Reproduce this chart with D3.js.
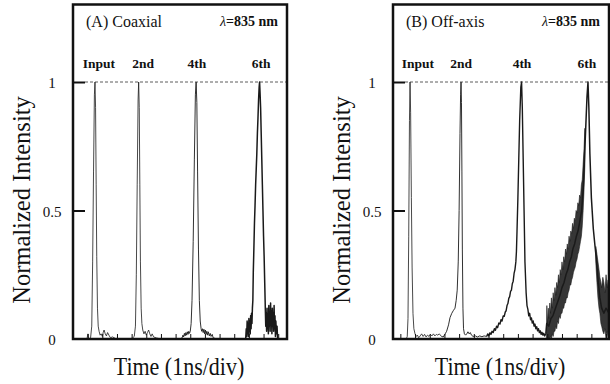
<!DOCTYPE html>
<html>
<head>
<meta charset="utf-8">
<script src="https://cdn.jsdelivr.net/npm/d3@7"></script>
<style>
  body { margin: 0; background: #fff; }
  svg { display: block; }
  text { font-family: "Liberation Serif", "Times New Roman", serif; fill: #111; }
</style>
</head>
<body>
<div id="chart"></div>
<script>
// time axis is in divisions, intensity normalised to the input peak
const intensityTicks = [0, 0.5, 1];
const intensityLabels = ["0", "0.5", "1"];
const pulseNames = ["Input", "2nd", "4th", "6th"];
const labelTimesA = [1.77, 4.78, 8.46, 12.83];
const labelTimesB = [1.70, 4.63, 8.78, 13.2];
const timeTicksA = [1, 2, 3, 4, 5, 6, 7, 8, 9, 10, 11, 12, 13, 14];
const timeTicksB = [0.5, 1.5, 2.5, 3.5, 4.5, 5.5, 6.5, 7.5, 8.5, 9.5, 10.5, 11.5, 12.5, 13.5, 14.5];

// (A) coaxial trace, one array per pulse
const traceA_input = [[0, 0], [0.95, 0], [1.02, 0.02], [1.06, 0], [1.2, 0.005], [1.28, 0.05], [1.34, 0.3], [1.4, 0.65], [1.46, 0.95], [1.5, 1],
  [1.54, 0.9], [1.58, 0.6], [1.62, 0.32], [1.67, 0.12], [1.72, 0.05], [1.78, 0.03], [1.85, 0.015], [1.92, 0.02], [2.0, 0.01],
  [2.06, 0.025], [2.12, 0.035], [2.2, 0.02], [2.28, 0.012], [2.36, 0.025], [2.45, 0.015], [2.55, 0.005], [2.7, 0.008], [2.9, 0.002], [3.7, 0]];
const traceA_2nd = [[3.7, 0], [4.05, 0.003], [4.18, 0.01], [4.26, 0.05], [4.32, 0.25], [4.38, 0.6], [4.44, 0.93], [4.48, 1], [4.52, 0.9],
  [4.56, 0.6], [4.6, 0.3], [4.65, 0.12], [4.7, 0.06], [4.76, 0.035], [4.84, 0.02], [4.92, 0.03], [5.0, 0.015], [5.08, 0.025],
  [5.16, 0.035], [5.24, 0.02], [5.32, 0.01], [5.4, 0.02], [5.5, 0.008], [5.7, 0.004], [6.0, 0]];
const traceA_4th = [[6.0, 0], [7.3, 0], [7.45, 0.005], [7.5, 0.015], [7.55, 0.008], [7.6, 0.022], [7.65, 0.012], [7.7, 0.025], [7.75, 0.015],
  [7.8, 0.028], [7.85, 0.018], [7.9, 0.03], [7.95, 0.022], [8.0, 0.03], [8.06, 0.06], [8.12, 0.15], [8.2, 0.38], [8.28, 0.7],
  [8.35, 0.95], [8.4, 1], [8.45, 0.92], [8.5, 0.65], [8.56, 0.35], [8.62, 0.15], [8.68, 0.07], [8.74, 0.04], [8.78, 0.03],
  [8.83, 0.04], [8.88, 0.025], [8.93, 0.038], [8.98, 0.02], [9.03, 0.035], [9.08, 0.018], [9.13, 0.03], [9.18, 0.015],
  [9.23, 0.028], [9.3, 0.012], [9.36, 0.022], [9.42, 0.01], [9.5, 0.018], [9.56, 0.005], [9.7, 0.002], [11.5, 0]];
const traceA_6th = [[11.5, 0], [11.78, 0], [11.82, 0.04], [11.85, 0.01], [11.88, 0.07], [11.91, 0.02], [11.94, 0.06], [11.97, 0.01],
  [12.0, 0.08], [12.03, 0.03], [12.06, 0.07], [12.09, 0.02], [12.12, 0.09], [12.15, 0.04], [12.18, 0.1], [12.21, 0.06],
  [12.24, 0.12], [12.27, 0.15], [12.3, 0.26], [12.34, 0.35], [12.38, 0.45], [12.42, 0.52], [12.46, 0.6], [12.5, 0.66],
  [12.54, 0.72], [12.58, 0.8], [12.62, 0.86], [12.66, 0.93], [12.7, 0.98], [12.73, 1], [12.76, 0.96], [12.8, 0.9],
  [12.84, 0.8], [12.88, 0.7], [12.92, 0.6], [12.96, 0.5], [13.0, 0.4], [13.04, 0.32], [13.08, 0.22], [13.12, 0.12],
  [13.15, 0.05], [13.18, 0.1], [13.21, 0.03], [13.24, 0.12], [13.27, 0.04], [13.3, 0.09], [13.33, 0.02], [13.36, 0.13],
  [13.39, 0.05], [13.42, 0.1], [13.45, 0.03], [13.48, 0.14], [13.51, 0.06], [13.54, 0.11], [13.57, 0.02], [13.6, 0.12],
  [13.63, 0.05], [13.66, 0.1], [13.69, 0.03], [13.72, 0.13], [13.75, 0.04], [13.78, 0.09], [13.81, 0.01], [13.84, 0.07],
  [13.88, 0.02], [13.92, 0.05], [13.96, 0], [14.6, 0]];

// (B) off-axis trace
const traceB_input = [[0, 0], [0.9, 0], [0.97, 0.01], [1.02, 0.08], [1.07, 0.4], [1.12, 0.85], [1.16, 1], [1.2, 0.88], [1.25, 0.55],
  [1.3, 0.28], [1.36, 0.1], [1.42, 0.04], [1.5, 0.02], [1.58, 0.01], [1.66, 0.015], [1.75, 0.005], [1.85, 0.012], [1.95, 0.02],
  [2.05, 0.01], [2.15, 0.018], [2.25, 0.008], [2.35, 0.015], [2.45, 0.01], [2.55, 0.018], [2.65, 0.012], [2.75, 0.02],
  [2.85, 0.012], [2.95, 0.018], [3.05, 0.015], [3.15, 0.02], [3.3, 0.01]];
const traceB_2nd = [[3.3, 0.01], [3.42, 0.008], [3.55, 0.02], [3.65, 0.03], [3.78, 0.055], [3.88, 0.083], [4.0, 0.1], [4.1, 0.11],
  [4.22, 0.12], [4.3, 0.15], [4.37, 0.19], [4.44, 0.3], [4.5, 0.5], [4.56, 0.8], [4.6, 0.95], [4.63, 1], [4.66, 0.92],
  [4.69, 0.65], [4.72, 0.35], [4.76, 0.12], [4.8, 0.04], [4.86, 0.02], [4.94, 0.015], [5.02, 0.02], [5.1, 0.028], [5.18, 0.02],
  [5.26, 0.025], [5.34, 0.015], [5.45, 0.01], [5.6, 0.012], [5.75, 0.008], [5.9, 0.012], [6.05, 0.009], [6.2, 0.012], [6.37, 0.01]];
const traceB_4th = [[6.37, 0.01], [6.45, 0.02], [6.52, 0.012], [6.6, 0.024], [6.67, 0.018], [6.74, 0.03], [6.82, 0.025], [6.9, 0.04],
  [6.97, 0.034], [7.05, 0.05], [7.12, 0.044], [7.2, 0.062], [7.28, 0.058], [7.35, 0.075], [7.42, 0.07], [7.5, 0.09],
  [7.57, 0.088], [7.64, 0.105], [7.7, 0.11], [7.76, 0.13], [7.82, 0.138], [7.88, 0.158], [7.94, 0.165], [8.0, 0.185],
  [8.06, 0.19], [8.12, 0.215], [8.18, 0.225], [8.24, 0.255], [8.3, 0.27], [8.36, 0.3], [8.4, 0.34], [8.44, 0.42], [8.5, 0.55],
  [8.56, 0.7], [8.62, 0.85], [8.7, 0.98], [8.75, 1], [8.8, 0.9], [8.86, 0.7], [8.92, 0.5], [8.98, 0.3], [9.06, 0.18],
  [9.12, 0.13], [9.18, 0.115], [9.24, 0.09], [9.3, 0.1], [9.36, 0.075], [9.42, 0.082], [9.48, 0.062], [9.54, 0.07], [9.6, 0.05],
  [9.66, 0.058], [9.72, 0.04], [9.78, 0.048], [9.84, 0.032], [9.9, 0.04], [9.96, 0.025], [10.02, 0.032], [10.08, 0.018],
  [10.14, 0.026], [10.2, 0.015], [10.26, 0.022], [10.32, 0.012], [10.4, 0.02]];
const traceB_6th = [[10.4, 0.02], [10.46, 0.06], [10.6, 0.05], [10.75, 0.08], [10.88, 0.09], [11.0, 0.11], [11.12, 0.13],
  [11.24, 0.15], [11.36, 0.17], [11.5, 0.2], [11.64, 0.22], [11.77, 0.25], [11.9, 0.27], [12.02, 0.3], [12.14, 0.32],
  [12.24, 0.35], [12.36, 0.37], [12.48, 0.4], [12.59, 0.42], [12.72, 0.46], [12.84, 0.5], [12.94, 0.58], [13.0, 0.66],
  [13.1, 0.8], [13.2, 0.94], [13.27, 1], [13.33, 0.9], [13.4, 0.72], [13.5, 0.55], [13.63, 0.43], [13.75, 0.36],
  [13.86, 0.3], [13.97, 0.22], [14.08, 0.16], [14.2, 0.12], [14.35, 0.1], [14.5, 0.12], [14.7, 0.1]];
// noisy envelope [time, low, high]
const noiseB_6thRise = [[10.44, 0, 0.03], [10.47, 0, 0.13], [10.52, 0, 0.06], [10.57, 0, 0.12], [10.62, 0, 0.08], [10.67, 0, 0.14],
  [10.72, 0.01, 0.1], [10.78, 0, 0.16], [10.84, 0.02, 0.12], [10.9, 0.01, 0.18], [10.96, 0.03, 0.15], [11.02, 0.03, 0.2],
  [11.08, 0.05, 0.17], [11.14, 0.04, 0.22], [11.2, 0.07, 0.2], [11.26, 0.06, 0.25], [11.32, 0.09, 0.22], [11.38, 0.08, 0.27],
  [11.44, 0.1, 0.25], [11.5, 0.1, 0.3], [11.56, 0.12, 0.27], [11.62, 0.12, 0.32], [11.68, 0.14, 0.3], [11.74, 0.14, 0.35],
  [11.8, 0.16, 0.33], [11.86, 0.16, 0.37], [11.92, 0.18, 0.35], [11.98, 0.19, 0.4], [12.04, 0.21, 0.38], [12.1, 0.21, 0.42],
  [12.16, 0.23, 0.41], [12.22, 0.24, 0.45], [12.28, 0.26, 0.43], [12.34, 0.27, 0.47], [12.4, 0.28, 0.46], [12.46, 0.3, 0.5],
  [12.52, 0.31, 0.49], [12.58, 0.33, 0.53], [12.64, 0.34, 0.52], [12.7, 0.36, 0.56], [12.76, 0.38, 0.55], [12.82, 0.4, 0.6],
  [12.88, 0.44, 0.62], [12.94, 0.5, 0.68], [13.0, 0.58, 0.74], [13.06, 0.68, 0.82]];
const noiseB_6thTail = [[13.8, 0.3, 0.36], [13.88, 0.22, 0.33], [13.95, 0.16, 0.3], [14.02, 0.12, 0.27], [14.08, 0.1, 0.24],
  [14.15, 0.06, 0.22], [14.2, 0.05, 0.2], [14.28, 0.03, 0.24], [14.35, 0.02, 0.22], [14.42, 0.04, 0.18], [14.5, 0, 0.25],
  [14.58, 0.03, 0.2], [14.64, 0, 0.23], [14.69, 0.02, 0.19]];

const width = 610, height = 384;
const svg = d3.select("#chart").append("svg")
  .attr("width", width)
  .attr("height", height);

const y = d3.scaleLinear().domain([0, 1]).range([339, 82]);

const panels = [
  { title: "(A) Coaxial", left: 73, right: 287, domain: [0, 14.6], ticks: timeTicksA, labelTimes: labelTimesA,
    traces: [traceA_input, traceA_2nd, traceA_4th, traceA_6th], weights: [0.8, 0.8, 0.9, 1.5], bands: [] },
  { title: "(B) Off-axis", left: 393, right: 609, domain: [0, 14.7], ticks: timeTicksB, labelTimes: labelTimesB,
    traces: [traceB_input, traceB_2nd, traceB_4th, traceB_6th], weights: [0.8, 0.9, 1.4, 1.5], bands: [noiseB_6thRise, noiseB_6thTail] }
];

panels.forEach(p => {
  const x = d3.scaleLinear().domain(p.domain).range([p.left, p.right]);
  const g = svg.append("g");

  const line = d3.line().x(d => x(d[0])).y(d => y(d[1]));
  const area = d3.area().x(d => x(d[0])).y0(d => y(d[1])).y1(d => y(d[2]));

  g.selectAll(".band").data(p.bands).enter()
    .append("path")
    .attr("class", "band")
    .attr("d", area)
    .attr("fill", "#1a1a1a")
    .attr("fill-opacity", 0.88)
    .attr("stroke", "#1a1a1a")
    .attr("stroke-width", 0.6);

  g.selectAll(".trace").data(p.traces).enter()
    .append("path")
    .attr("class", "trace")
    .attr("d", line)
    .attr("fill", "none")
    .attr("stroke", "#1a1a1a")
    .attr("stroke-width", (d, i) => p.weights[i])
    .attr("stroke-linejoin", "round");

  // reference line at full intensity
  g.append("line")
    .attr("x1", p.left + 12).attr("x2", p.right)
    .attr("y1", y(1)).attr("y2", y(1))
    .attr("stroke", "#333")
    .attr("stroke-width", 0.8)
    .attr("stroke-dasharray", "3,2");

  // time ticks point up from the bottom edge
  g.append("g")
    .attr("transform", `translate(0, ${y(0)})`)
    .call(d3.axisTop(x).tickValues(p.ticks).tickSize(5).tickFormat(""))
    .call(s => s.select(".domain").remove())
    .call(s => s.selectAll("line").attr("stroke", "#111").attr("stroke-width", 1));

  // intensity ticks point inward from the left edge
  g.append("g")
    .attr("transform", `translate(${p.left}, 0)`)
    .call(d3.axisRight(y).tickValues(intensityTicks.slice(1)).tickSize(12).tickFormat(""))
    .call(s => s.select(".domain").remove())
    .call(s => s.selectAll("line").attr("stroke", "#111").attr("stroke-width", 2));

  g.selectAll(".ylab").data(intensityTicks).enter()
    .append("text")
    .attr("class", "ylab")
    .attr("x", p.left - 21)
    .attr("y", d => y(d) + 6)
    .attr("text-anchor", "middle")
    .style("font-size", "15px")
    .text((d, i) => intensityLabels[i]);

  g.append("rect")
    .attr("x", p.left).attr("y", 4.5)
    .attr("width", p.right - p.left).attr("height", y(0) - 4.5)
    .attr("fill", "none")
    .attr("stroke", "#111")
    .attr("stroke-width", 2.5);

  g.append("text")
    .attr("x", p.left + 13).attr("y", 27)
    .style("font-size", "16px")
    .text(p.title);

  const lam = g.append("text")
    .attr("x", p.right - 9).attr("y", 26)
    .attr("text-anchor", "end")
    .style("font-size", "14px");
  lam.append("tspan").style("font-style", "italic").text("λ");
  lam.append("tspan").style("font-weight", "bold").text("=835 nm");

  g.selectAll(".plab").data(pulseNames).enter()
    .append("text")
    .attr("class", "plab")
    .attr("x", (d, i) => x(p.labelTimes[i]))
    .attr("y", 68)
    .attr("text-anchor", "middle")
    .style("font-size", "13.5px")
    .style("font-weight", "bold")
    .text(d => d);

  g.append("text")
    .attr("transform", `translate(${(p.left + p.right) / 2 - 1}, 375) scale(0.88, 1)`)
    .attr("text-anchor", "middle")
    .style("font-size", "25px")
    .text("Time (1ns/div)");

  g.append("text")
    .attr("transform", `translate(${p.left - 43}, 200) rotate(-90)`)
    .attr("text-anchor", "middle")
    .style("font-size", "24.5px")
    .text("Normalized Intensity");
});
</script>
</body>
</html>
